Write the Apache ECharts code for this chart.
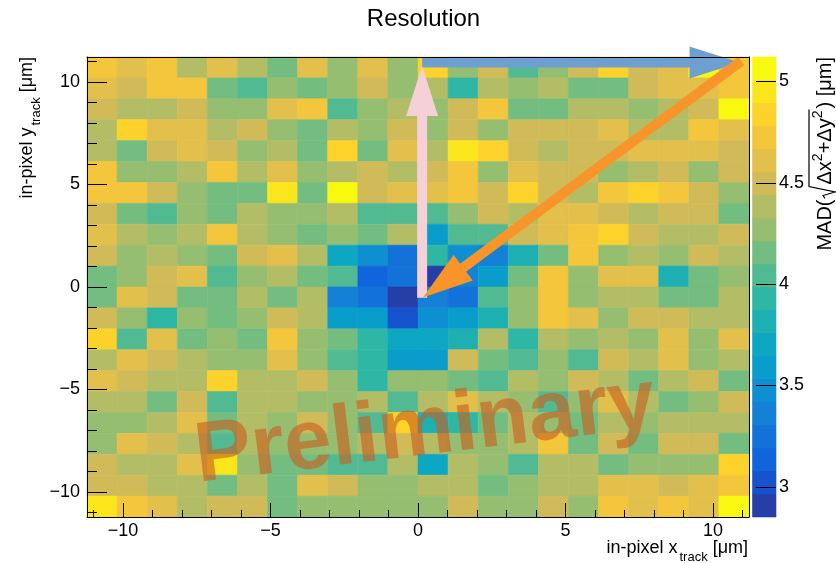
<!DOCTYPE html>
<html>
<head>
<meta charset="utf-8">
<title>Resolution</title>
<script src="https://cdn.jsdelivr.net/npm/echarts@6/dist/echarts.min.js"></script>
<style>
  html, body { margin: 0; padding: 0; background: #ffffff; }
  #chart { width: 836px; height: 563px; }
</style>
</head>
<body>
<div id="chart"></div>
<script>
// ---------------------------------------------------------------------------
// Data: MAD of the 2D residual in bins of the in-pixel track position (µm)
// ---------------------------------------------------------------------------
const xBinCenters = [-10.71, -9.69, -8.67, -7.65, -6.63, -5.61, -4.59, -3.57, -2.55, -1.53, -0.51,
                     0.51, 1.53, 2.55, 3.57, 4.59, 5.61, 6.63, 7.65, 8.67, 9.69, 10.71];
// rows are listed from the top of the pixel (y = +10.71) down to the bottom
const yBinCenters = [10.71, 9.69, 8.67, 7.65, 6.63, 5.61, 4.59, 3.57, 2.55, 1.53, 0.51,
                     -0.51, -1.53, -2.55, -3.57, -4.59, -5.61, -6.63, -7.65, -8.67, -9.69, -10.71];
const binWidth = 1.02;
const axisRange = [-11.22, 11.22];

const xTickValues = [-10, -5, 0, 5, 10];
const yTickValues = [-10, -5, 0, 5, 10];
const minorTickValues = [-11, -10, -9, -8, -7, -6, -5, -4, -3, -2, -1, 0, 1, 2, 3, 4, 5, 6, 7, 8, 9, 10, 11];
const zTickValues = [3, 3.5, 4, 4.5, 5];
const nContours = 20;

const madRows = [
  [4.73,4.60,4.71,4.39,4.62,4.37,4.16,4.61,4.28,4.59,4.26, 4.83,4.27,4.49,4.05,4.29,4.51,4.85,4.48,4.62,5.08,4.70],
  [4.61,4.48,4.72,4.74,4.14,4.03,4.28,4.16,4.27,4.47,4.29, 4.37,3.92,4.39,4.26,4.38,4.15,4.17,4.50,4.60,4.62,4.71],
  [4.49,4.39,4.36,4.51,4.27,4.29,4.60,4.73,4.05,4.28,4.38, 4.27,4.49,4.74,4.15,4.16,4.37,4.39,4.26,4.38,4.50,5.09],
  [4.38,4.86,4.61,4.62,4.37,4.49,4.27,4.15,4.39,4.28,4.50, 4.26,4.48,4.28,4.51,4.49,4.50,4.62,4.38,4.37,4.73,4.61],
  [4.37,4.16,4.50,4.60,4.48,4.27,4.39,4.15,4.85,4.16,4.61, 4.38,4.96,4.84,4.49,4.37,4.50,4.51,4.61,4.62,4.60,4.49],
  [4.72,4.28,4.26,4.38,4.73,4.37,4.61,4.27,4.39,4.50,4.38, 4.49,4.72,4.28,4.62,4.50,4.48,4.26,4.37,4.51,4.27,4.49],
  [4.71,4.73,4.50,4.27,4.16,4.15,4.95,4.16,5.12,4.49,4.61, 4.62,4.72,4.50,4.84,4.48,4.38,4.73,4.85,4.71,4.50,4.28],
  [4.49,4.15,4.04,4.28,4.16,4.38,4.27,4.26,4.39,4.05,4.03, 4.04,4.28,4.50,4.38,4.61,4.60,4.49,4.37,4.50,4.51,4.16],
  [4.61,4.38,4.27,4.37,4.72,4.39,4.28,4.15,4.27,4.16,4.38, 3.58,4.04,4.05,4.49,4.61,4.72,4.84,4.50,4.38,4.37,4.49],
  [4.50,4.27,4.38,4.28,4.15,4.49,4.61,4.38,3.70,3.47,3.24, 3.93,3.48,3.36,3.81,4.16,4.72,4.27,4.39,4.28,4.50,4.37],
  [4.15,4.28,4.49,4.61,4.04,4.27,4.38,4.16,4.03,3.13,3.24, 2.85,3.36,3.58,4.15,4.73,4.27,4.61,4.60,3.81,4.16,4.27],
  [4.16,4.61,4.50,4.15,4.16,4.38,4.15,4.37,3.36,3.24,2.92, 3.35,3.25,4.04,4.27,4.72,4.28,4.38,4.39,4.15,4.16,4.38],
  [4.49,4.27,3.93,4.28,4.15,4.27,4.50,4.38,3.58,3.59,3.01, 3.47,3.58,3.81,4.27,4.72,4.61,4.28,4.50,4.49,4.38,4.37],
  [4.84,4.04,4.61,4.16,4.27,4.15,4.73,4.28,4.15,3.93,3.70, 3.69,3.81,4.38,3.92,4.37,4.27,4.39,4.28,4.61,4.27,4.62],
  [4.38,4.61,4.49,4.38,4.27,4.28,4.62,4.27,4.04,3.93,3.58, 3.59,4.50,4.15,4.05,4.27,4.04,4.49,4.38,4.61,4.28,4.37],
  [4.61,4.50,4.38,4.37,4.85,4.38,4.39,4.50,4.27,3.93,4.28, 4.27,4.16,4.04,4.38,4.27,4.49,4.37,4.15,4.38,4.50,4.16],
  [4.38,4.37,4.15,4.49,4.04,4.38,4.39,4.27,4.28,4.38,4.04, 4.37,4.61,4.38,4.27,4.05,4.28,4.61,4.38,4.16,4.27,4.50],
  [4.27,4.28,4.38,4.61,4.15,4.37,4.27,4.50,4.28,4.04,4.84, 3.81,3.93,4.16,4.38,4.27,4.15,4.39,4.27,4.38,4.37,4.38],
  [4.27,4.61,4.50,4.38,4.04,4.37,4.28,4.27,4.26,4.38,4.49, 4.38,4.27,4.28,4.37,4.72,4.15,4.50,4.16,4.49,4.50,4.15],
  [4.50,4.38,4.37,4.61,4.95,4.27,4.15,4.16,4.04,4.05,4.38, 3.70,4.38,4.27,4.04,4.37,4.39,4.15,4.28,4.27,4.26,4.84],
  [4.49,4.50,4.38,4.37,4.15,4.38,4.16,4.61,4.50,4.27,4.28, 4.38,4.37,4.15,4.27,4.38,4.39,4.61,4.60,4.49,4.61,4.72],
  [4.95,4.72,4.61,4.38,4.50,4.49,4.15,4.27,4.28,4.27,4.26, 4.27,4.50,4.28,4.27,4.49,4.28,4.72,4.61,4.73,4.60,5.08]
];

// Annotation arrows in axis units: [x1, y1, x2, y2] (arrow head at the second point)
const arrowSegments = [
  [0.14, -0.52, 0.14, 10.78],
  [0.14, 10.95, 10.90, 10.95],
  [10.96, 11.03, 0.17, -0.51]
];
const arrowColors = ['#f5d0d6', '#6e9fd1', '#f7952b'];

// ---------------------------------------------------------------------------
// Styling helpers
// ---------------------------------------------------------------------------
const FONT = '"Liberation Sans", Arial, Helvetica, sans-serif';

// ROOT "bird" palette (kBird), 255-colour gradient table
const birdStops = [0.0, 0.125, 0.25, 0.375, 0.5, 0.625, 0.75, 0.875, 1.0];
const birdR = [0.2082, 0.0592, 0.0780, 0.0232, 0.1802, 0.5301, 0.8186, 0.9956, 0.9764];
const birdG = [0.1664, 0.3599, 0.5041, 0.6419, 0.7178, 0.7492, 0.7328, 0.7862, 0.9832];
const birdB = [0.5293, 0.8684, 0.8385, 0.7914, 0.6425, 0.4662, 0.3499, 0.1968, 0.0539];
const N_COLORS = 255;

function paletteColor(k) {
  for (let g = 1; g < birdStops.length; g++) {
    const start = Math.floor(N_COLORS * birdStops[g - 1]);
    const end = Math.floor(N_COLORS * birdStops[g]);
    if (k < end || g === birdStops.length - 1) {
      const t = (k - start) / (end - start);
      const c = (arr) => Math.round(255 * (arr[g - 1] + t * (arr[g] - arr[g - 1])));
      return 'rgb(' + c(birdR) + ',' + c(birdG) + ',' + c(birdB) + ')';
    }
  }
}

// contour levels spanning the data range, one palette colour per level
const allValues = madRows.flat();
const zMin = Math.min(...allValues);
const zMax = Math.max(...allValues);
const levelEdges = [];
for (let i = 0; i <= nContours; i++) levelEdges.push(zMin + (zMax - zMin) * i / nContours);
const levelColors = [];
for (let i = 0; i < nContours; i++) levelColors.push(paletteColor(Math.floor((i + 0.99) * N_COLORS / nContours)));

const pieces = levelColors.map((color, i) => (
  i === nContours - 1
    ? { gte: levelEdges[i], lte: levelEdges[i + 1] + 1e-9, color }
    : { gte: levelEdges[i], lt: levelEdges[i + 1], color }
));

// ---------------------------------------------------------------------------
// Series data
// ---------------------------------------------------------------------------
const cellData = [];
madRows.forEach((row, r) => row.forEach((v, c) => cellData.push([xBinCenters[c], yBinCenters[r], v])));

const bandData = levelColors.map((_, i) => [levelEdges[i], levelEdges[i + 1], (levelEdges[i] + levelEdges[i + 1]) / 2]);
const paletteTickData = zTickValues.map(v => [v]);

function renderCell(params, api) {
  const xc = api.value(0), yc = api.value(1);
  const p0 = api.coord([xc - binWidth / 2, yc + binWidth / 2]);
  const p1 = api.coord([xc + binWidth / 2, yc - binWidth / 2]);
  const color = api.visual('color');
  return {
    type: 'rect',
    shape: { x: p0[0], y: p0[1], width: p1[0] - p0[0], height: p1[1] - p0[1] },
    style: { fill: color, stroke: color, lineWidth: 0.6 }
  };
}

function renderBand(params, api) {
  const p0 = api.coord([0, api.value(1)]);
  const p1 = api.coord([1, api.value(0)]);
  const color = api.visual('color');
  return {
    type: 'rect',
    shape: { x: p0[0], y: p0[1], width: p1[0] - p0[0], height: p1[1] - p0[1] },
    style: { fill: color, stroke: color, lineWidth: 0.6 }
  };
}

// palette axis ticks: drawn from the right edge of the colour bar inwards
function renderPaletteTick(params, api) {
  const p = api.coord([1, api.value(0)]);
  const y = Math.round(p[1]) + 0.5;
  return {
    type: 'line',
    shape: { x1: p[0] - 20, y1: y, x2: p[0], y2: y },
    style: { stroke: '#000', lineWidth: 1 }
  };
}

const HEAD_LEN = 50, HEAD_HALF = 16, SHAFT_HALF = 5;
function renderArrow(params, api) {
  const a = api.coord([api.value(0), api.value(1)]);
  const b = api.coord([api.value(2), api.value(3)]);
  const dx = b[0] - a[0], dy = b[1] - a[1];
  const len = Math.hypot(dx, dy);
  const ux = dx / len, uy = dy / len;
  const nx = -uy, ny = ux;
  const bx = b[0] - ux * HEAD_LEN, by = b[1] - uy * HEAD_LEN;
  const ex = bx + ux, ey = by + uy;
  const color = arrowColors[params.dataIndex];
  return {
    type: 'group',
    children: [
      {
        type: 'polygon',
        shape: { points: [
          [a[0] + nx * SHAFT_HALF, a[1] + ny * SHAFT_HALF],
          [ex + nx * SHAFT_HALF, ey + ny * SHAFT_HALF],
          [ex - nx * SHAFT_HALF, ey - ny * SHAFT_HALF],
          [a[0] - nx * SHAFT_HALF, a[1] - ny * SHAFT_HALF]
        ] },
        style: { fill: color }
      },
      {
        type: 'polygon',
        shape: { points: [
          [b[0], b[1]],
          [bx + nx * HEAD_HALF, by + ny * HEAD_HALF],
          [bx - nx * HEAD_HALF, by - ny * HEAD_HALF]
        ] },
        style: { fill: color }
      }
    ]
  };
}

// ---------------------------------------------------------------------------
// Text runs with subscripts / superscripts, laid out with measured widths
// ---------------------------------------------------------------------------
const measureCtx = document.createElement('canvas').getContext('2d');
function textWidth(str, size) {
  measureCtx.font = size + 'px ' + FONT;
  return measureCtx.measureText(str).width;
}
function textEl(str, x, baseline, size) {
  return {
    type: 'text',
    style: {
      text: str, x: x, y: baseline - 0.35 * size,
      font: size + 'px ' + FONT, fill: '#000',
      textAlign: 'left', textVerticalAlign: 'middle', align: 'left', verticalAlign: 'middle'
    }
  };
}
// pieces: { text, size, shift } or { gap }; the run ends at local x = 0
function layoutRun(pieces) {
  const widths = pieces.map(p => (p.gap != null ? p.gap : textWidth(p.text, p.size)));
  const total = widths.reduce((s, w) => s + w, 0);
  let x = -total;
  const children = [];
  const starts = [];
  pieces.forEach((p, i) => {
    starts.push(x);
    if (p.text) children.push(textEl(p.text, x, p.shift || 0, p.size));
    x += widths[i];
  });
  return { children, starts, widths };
}

const axisTitlePieces = (v) => [
  { text: 'in-pixel ' + v, size: 18 },
  { gap: 2 },
  { text: 'track', size: 13, shift: 8 },
  { text: ' [\u03bcm]', size: 18 }
];

const xTitle = layoutRun(axisTitlePieces('x'));
const yTitle = layoutRun(axisTitlePieces('y'));

// colour-bar title: MAD(sqrt(dx^2 + dy^2)) [um]
const zPieces = [
  { text: 'MAD(', size: 20 },
  { gap: 15 },
  { text: '\u0394x', size: 20 },
  { text: '2', size: 14, shift: -9 },
  { text: '+\u0394y', size: 20 },
  { text: '2', size: 14, shift: -9 },
  { gap: 2 },
  { text: ')', size: 20 },
  { text: ' [\u03bcm]', size: 20 }
];
const zTitle = layoutRun(zPieces);
const rootStart = zTitle.starts[1];
const rootEnd = zTitle.starts[6] + 1;
const ROOT_TOP = -23;
zTitle.children.push({
  type: 'polyline',
  shape: { points: [
    [rootStart + 1, -7], [rootStart + 4, -9], [rootStart + 7.5, 3],
    [rootStart + 13, ROOT_TOP], [rootEnd, ROOT_TOP]
  ] },
  style: { stroke: '#000', lineWidth: 1.2, fill: null }
});

// ---------------------------------------------------------------------------
// Chart
// ---------------------------------------------------------------------------
const chart = echarts.init(document.getElementById('chart'), null, { renderer: 'canvas' });

const black = { color: '#000', width: 1 };
const labelStyle = { fontFamily: FONT, fontSize: 18, color: '#000' };
const signed = (v) => (v < 0 ? '\u2212' + Math.abs(v) : String(v));

function frameAxis(extra) {
  return Object.assign({
    type: 'value', gridIndex: 0, min: axisRange[0], max: axisRange[1], z: 6,
    axisLine: { show: false, onZero: false, lineStyle: black },
    axisTick: { show: false },
    axisLabel: { show: false },
    splitLine: { show: false }
  }, extra);
}

const option = {
  animation: false,
  backgroundColor: '#ffffff',
  grid: [
    { left: 87, top: 57, width: 662, height: 460 },
    { left: 752.5, top: 57, width: 23.5, height: 460 }
  ],
  xAxis: [
    frameAxis({
      position: 'bottom',
      axisLine: { show: true, onZero: false, lineStyle: black },
      axisTick: { show: true, inside: true, length: 14, customValues: xTickValues, lineStyle: black },
      axisLabel: Object.assign({ show: true, customValues: xTickValues, margin: 5, formatter: signed }, labelStyle)
    }),
    frameAxis({
      position: 'bottom',
      axisTick: { show: true, inside: true, length: 7, customValues: minorTickValues, lineStyle: black }
    }),
    frameAxis({ position: 'top', axisLine: { show: true, onZero: false, lineStyle: black } }),
    { type: 'value', gridIndex: 1, min: 0, max: 1, show: false }
  ],
  yAxis: [
    frameAxis({
      position: 'left',
      axisLine: { show: true, onZero: false, lineStyle: black },
      axisTick: { show: true, inside: true, length: 20, customValues: yTickValues, lineStyle: black },
      axisLabel: Object.assign({ show: true, customValues: yTickValues, margin: 7, formatter: signed }, labelStyle)
    }),
    frameAxis({
      position: 'left',
      axisTick: { show: true, inside: true, length: 10, customValues: minorTickValues, lineStyle: black }
    }),
    frameAxis({ position: 'right', axisLine: { show: true, onZero: false, lineStyle: black } }),
    {
      type: 'value', gridIndex: 1, min: zMin, max: zMax, position: 'right', z: 6,
      axisLine: { show: false },
      axisTick: { show: false },
      axisLabel: Object.assign({ show: true, customValues: zTickValues, margin: 3, formatter: (v) => String(v) }, labelStyle),
      splitLine: { show: false }
    }
  ],
  visualMap: {
    type: 'piecewise',
    show: false,
    seriesIndex: [0, 1],
    dimension: 2,
    pieces: pieces
  },
  series: [
    {
      name: 'MAD',
      type: 'custom',
      xAxisIndex: 0, yAxisIndex: 0,
      renderItem: renderCell,
      data: cellData,
      z: 2
    },
    {
      name: 'palette',
      type: 'custom',
      xAxisIndex: 3, yAxisIndex: 3,
      renderItem: renderBand,
      data: bandData,
      z: 2
    },
    {
      name: 'arrows',
      type: 'custom',
      xAxisIndex: 0, yAxisIndex: 0,
      renderItem: renderArrow,
      data: arrowSegments,
      z: 4
    },
    {
      name: 'palette ticks',
      type: 'custom',
      xAxisIndex: 3, yAxisIndex: 3,
      renderItem: renderPaletteTick,
      data: paletteTickData,
      z: 5
    }
  ],
  graphic: [
    {
      type: 'text', z: 10,
      style: {
        text: 'Resolution', x: 423.5, y: 19.5,
        font: '24px ' + FONT, fill: '#000',
        textAlign: 'center', textVerticalAlign: 'middle', align: 'center', verticalAlign: 'middle'
      }
    },
    { type: 'group', x: 748, y: 554, z: 10, children: xTitle.children },
    { type: 'group', x: 33, y: 57, rotation: Math.PI / 2, z: 10, children: yTitle.children },
    { type: 'group', x: 832, y: 57, rotation: Math.PI / 2, z: 10, children: zTitle.children },
    {
      type: 'text', z: 20,
      x: 195.4, y: 458.5, rotation: 0.12,
      style: {
        text: 'Preliminary', x: 0, y: 0,
        font: 'bold 85px ' + FONT, fill: 'rgba(200, 95, 30, 0.62)',
        textAlign: 'left', textVerticalAlign: 'middle', align: 'left', verticalAlign: 'middle'
      }
    }
  ]
};

chart.setOption(option);
</script>
</body>
</html>
